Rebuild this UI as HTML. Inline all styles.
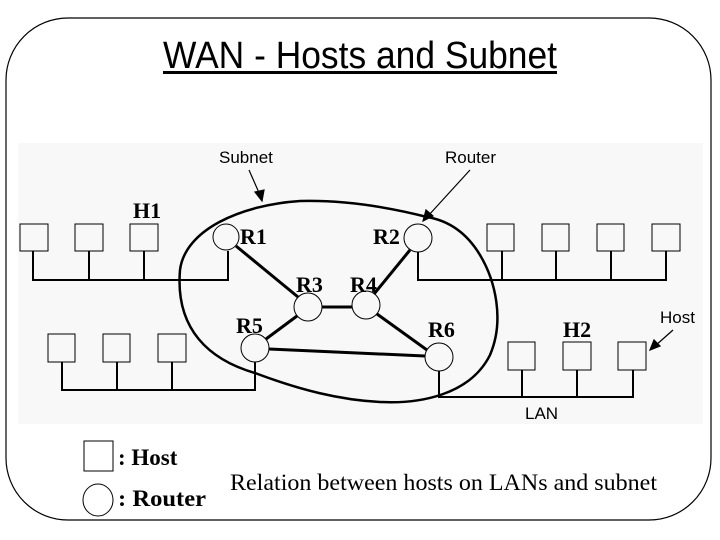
<!DOCTYPE html>
<html><head><meta charset="utf-8"><style>
html,body{margin:0;padding:0;background:#fff;width:720px;height:540px;overflow:hidden}
</style></head><body>
<svg width="720" height="540" viewBox="0 0 720 540" xmlns="http://www.w3.org/2000/svg">
<rect x="6" y="18" width="705" height="502" rx="62" ry="62" fill="#fff" stroke="#000" stroke-width="1.2"/>
<text x="163" y="68" font-family="Liberation Sans, sans-serif" font-size="38" textLength="394" lengthAdjust="spacingAndGlyphs">WAN - Hosts and Subnet</text>
<rect x="163" y="71" width="394" height="3" fill="#000"/>
<rect x="18" y="143" width="685" height="281" fill="#f8f8f8"/>
<g fill="none" stroke="#000" stroke-width="1">
<rect x="20" y="224" width="28" height="27"/><rect x="75" y="224" width="28" height="27"/><rect x="130" y="224" width="28" height="27"/>
<rect x="48" y="334" width="27" height="28"/><rect x="103" y="334" width="27" height="28"/><rect x="158" y="334" width="28" height="28"/>
<rect x="487" y="224" width="27" height="27"/><rect x="542" y="224" width="27" height="27"/><rect x="597" y="224" width="27" height="27"/><rect x="652" y="224" width="28" height="27"/>
<rect x="508" y="342" width="27" height="28"/><rect x="563" y="342" width="28" height="28"/><rect x="618" y="342" width="28" height="28"/>
<circle cx="226" cy="237" r="13"/><circle cx="418" cy="238" r="14"/><circle cx="308" cy="307" r="14"/><circle cx="366" cy="305" r="14"/><circle cx="255" cy="348" r="14"/><circle cx="439" cy="357" r="14"/>
</g>
<g fill="none" stroke="#000" stroke-width="2">
<path d="M33 251V280H228V251M89 251V280M144 251V280"/>
<path d="M62 362V390H255V362M117 362V390M172 362V390"/>
<path d="M418 252V280H666V251M502 251V280M556 251V280M611 251V280"/>
<path d="M439 371V397H633V370M522 370V397M577 370V397"/>
</g>
<g stroke="#000" stroke-width="3">
<line x1="236" y1="246" x2="298" y2="297"/>
<line x1="322" y1="307" x2="352" y2="307"/>
<line x1="297" y1="316" x2="266" y2="339"/>
<line x1="374" y1="294" x2="410" y2="250"/>
<line x1="377" y1="314" x2="427" y2="350"/>
<line x1="269" y1="349" x2="425" y2="356"/>
</g>
<path d="M300 201C240 205 185 230 180 270C175 330 210 360 255 373C300 390 340 400 380 402C420 404 470 395 490 355C505 320 495 280 480 255C465 230 445 220 427 217C380 205 340 200 300 201Z" fill="none" stroke="#000" stroke-width="2.5"/>
<g stroke="#000" stroke-width="1.2" fill="#000">
<line x1="249" y1="170" x2="260" y2="195"/><path d="M262 201L255 192L264 190Z"/>
<line x1="470" y1="170" x2="428" y2="216"/><path d="M423 221L426 210L433 216Z"/>
<line x1="673" y1="330" x2="655" y2="346"/><path d="M650 350L654 340L660 346Z"/>
</g>
<g font-family="Liberation Sans, sans-serif" font-size="17">
<text x="219" y="163">Subnet</text><text x="445" y="163">Router</text><text x="660" y="323">Host</text><text x="525" y="419">LAN</text>
</g>
<g font-family="Liberation Serif, serif" font-size="22" font-weight="bold">
<text x="133" y="218">H1</text><text x="240" y="244">R1</text><text x="373" y="244">R2</text><text x="296" y="292">R3</text><text x="350" y="292">R4</text><text x="236" y="333">R5</text><text x="428" y="337">R6</text><text x="563" y="337">H2</text>
</g>
<rect x="84" y="441" width="29" height="30" fill="none" stroke="#000"/>
<ellipse cx="98" cy="500" rx="15" ry="16" fill="none" stroke="#000"/>
<g font-family="Liberation Serif, serif" font-size="23">
<text x="118" y="465" font-weight="bold">: Host</text>
<text x="118" y="506" font-weight="bold" textLength="88" lengthAdjust="spacingAndGlyphs">: Router</text>
<text x="230" y="490" textLength="427" lengthAdjust="spacingAndGlyphs">Relation between hosts on LANs and subnet</text>
</g>
</svg>
</body></html>
